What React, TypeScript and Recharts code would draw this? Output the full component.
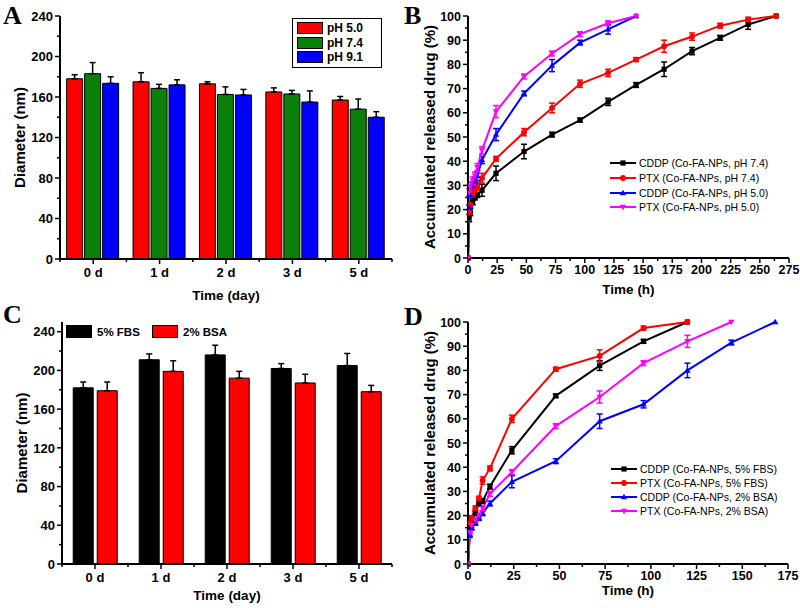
import React from 'react';
import { BarChart, Bar, LineChart, Line, XAxis, YAxis, ErrorBar, Legend } from 'recharts';

const FONT = '"Liberation Sans", Arial, sans-serif';
const SERIF = '"Liberation Serif", "Times New Roman", serif';

// ---- Panel A: diameter vs pH ----
const daysA = ['0 d', '1 d', '2 d', '3 d', '5 d'];
const ph50 = [178, 175, 173, 165, 157];
const ph50Err = [4, 9, 2, 4, 3.5];
const ph74 = [183, 168.5, 162.5, 163, 148];
const ph74Err = [11, 4, 7.5, 3.5, 10];
const ph91 = [173.5, 172, 162, 155, 140];
const ph91Err = [6.5, 5, 5.5, 11, 5.5];

// ---- Panel C: diameter in serum ----
const daysC = ['0 d', '1 d', '2 d', '3 d', '5 d'];
const fbs = [182, 211, 216, 202, 205];
const fbsErr = [6, 6, 10, 5, 12.5];
const bsa = [179, 199, 192, 187, 178];
const bsaErr = [9, 11, 7, 9, 6.5];

const diamTicks = [0, 20, 40, 60, 80, 100, 120, 140, 160, 180, 200, 220, 240];

// ---- Panel B: release at pH 7.4 / 5.0 ----
const tB74 = [0, 1, 2, 4, 6, 8, 12, 24, 48, 72, 96, 120, 144, 168, 192, 216, 240, 264];
const cddp74 = [0, 16.5, 19, 23, 25, 26, 28, 35, 44, 51, 57, 64.5, 71.5, 78, 85.5, 91, 96.5, 100];
const cddp74Err = [0, 1.5, 1.5, 1, 1, 1, 2.5, 3, 3, 1, 0.8, 1.5, 1, 3, 1.5, 1, 2, 0];
const ptx74 = [0, 19, 22, 26, 28, 29.5, 33, 41, 52, 62, 72, 76.5, 82, 87.5, 91.5, 96, 98.5, 100];
const ptx74Err = [0, 1, 1, 1, 1.5, 1.5, 2, 1, 1.5, 2, 1.5, 1.5, 0.8, 2.5, 1.5, 1, 1, 0];
const tB50 = [0, 1, 2, 4, 6, 8, 12, 24, 48, 72, 96, 120, 144];
const cddp50 = [0, 21, 26, 30, 32, 34, 40.5, 51, 68, 79.5, 89, 94.5, 100];
const cddp50Err = [0, 1, 1.5, 1.5, 1.5, 2, 1.5, 2.5, 1, 2.5, 1, 2, 0];
const ptx50 = [0, 27, 29.5, 32, 34, 37.5, 44.5, 60.5, 75, 84.5, 92.5, 97, 100];
const ptx50Err = [0, 1.5, 2, 1.5, 1.5, 1.5, 1.5, 2.5, 1, 1, 1, 1, 0];

// ---- Panel D: release in serum ----
const tD = [0, 1, 2, 4, 6, 8, 12, 24, 48, 72, 96, 120, 144, 168];
const cddpFbs = [0, 15, 18, 21, 25, 26, 32, 47, 69.5, 82, 92, 100];
const cddpFbsErr = [0, 1, 1, 1, 1, 1, 1, 1.5, 0.7, 2, 0.8, 0];
const ptxFbs = [0, 17, 19, 23, 27, 34.5, 39.5, 60, 80.5, 86, 97.5, 100];
const ptxFbsErr = [0, 1, 1, 1, 1, 1.5, 1, 1.5, 0.8, 2.5, 0.8, 0];
const cddpBsa = [0, 12, 15, 17, 19, 21, 25, 34, 42.5, 59, 66, 80, 91.5, 100];
const cddpBsaErr = [0, 1, 1, 1, 1, 1, 1, 2.5, 1, 3, 1.5, 3, 1, 0];
const ptxBsa = [0, 13, 16, 18, 20, 23, 29, 38, 57, 69, 83, 92, 100];
const ptxBsaErr = [0, 1, 1, 1, 1, 1, 1, 1, 1, 2.5, 1, 2.5, 0];

const hoursB = Array.from({ length: 23 }, (_, i) => i * 12.5);
const hoursD = Array.from({ length: 15 }, (_, i) => i * 12.5);
const pctTicks = Array.from({ length: 21 }, (_, i) => i * 5);

const toSeries = (ts: number[], vs: number[], es: number[]) =>
  vs.map((v, i) => ({ t: ts[i], v, e: es[i] }));

const dataA = daysA.map((day, i) => ({
  day,
  p50: ph50[i], p50E: [0, ph50Err[i]],
  p74: ph74[i], p74E: [0, ph74Err[i]],
  p91: ph91[i], p91E: [0, ph91Err[i]],
}));

const dataC = daysC.map((day, i) => ({
  day,
  fbs: fbs[i], fbsE: [0, fbsErr[i]],
  bsa: bsa[i], bsaE: [0, bsaErr[i]],
}));

type LineSeries = { name: string; color: string; shape: string; data: { t: number; v: number; e: number }[] };

const seriesB: LineSeries[] = [
  { name: 'CDDP (Co-FA-NPs, pH 7.4)', color: '#000000', shape: 'square', data: toSeries(tB74, cddp74, cddp74Err) },
  { name: 'PTX (Co-FA-NPs, pH 7.4)', color: '#FF0000', shape: 'circle', data: toSeries(tB74, ptx74, ptx74Err) },
  { name: 'CDDP (Co-FA-NPs, pH 5.0)', color: '#0000FF', shape: 'up', data: toSeries(tB50, cddp50, cddp50Err) },
  { name: 'PTX (Co-FA-NPs, pH 5.0)', color: '#FF00FF', shape: 'down', data: toSeries(tB50, ptx50, ptx50Err) },
];

const seriesD: LineSeries[] = [
  { name: 'CDDP (Co-FA-NPs, 5% FBS)', color: '#000000', shape: 'square', data: toSeries(tD, cddpFbs, cddpFbsErr) },
  { name: 'PTX (Co-FA-NPs, 5% FBS)', color: '#FF0000', shape: 'circle', data: toSeries(tD, ptxFbs, ptxFbsErr) },
  { name: 'CDDP (Co-FA-NPs, 2% BSA)', color: '#0000FF', shape: 'up', data: toSeries(tD, cddpBsa, cddpBsaErr) },
  { name: 'PTX (Co-FA-NPs, 2% BSA)', color: '#FF00FF', shape: 'down', data: toSeries(tD, ptxBsa, ptxBsaErr) },
];

const TS = 5; // tick size
const TM = 3; // tick margin

const marker = (shape: string, cx: number, cy: number, color: string, key?: any) => {
  const s = 2.6;
  if (shape === 'square') return <rect key={key} x={cx - s} y={cy - s} width={2 * s} height={2 * s} fill={color} />;
  if (shape === 'circle') return <circle key={key} cx={cx} cy={cy} r={s + 0.3} fill={color} />;
  const t = s + 0.6;
  const d = shape === 'up'
    ? `M${cx},${cy - t}L${cx + t},${cy + t * 0.7}L${cx - t},${cy + t * 0.7}Z`
    : `M${cx},${cy + t}L${cx + t},${cy - t * 0.7}L${cx - t},${cy - t * 0.7}Z`;
  return <path key={key} d={d} fill={color} />;
};

const dotFor = (shape: string, color: string) => (p: any) => {
  const { cx, cy, index } = p;
  if (cx == null || cy == null) return <g key={index} />;
  return marker(shape, cx, cy, color, index);
};

const leftTick = (isMajor: (v: number) => boolean, fontSize: number) => (props: any) => {
  const { x, y, payload } = props;
  const ax = x + TS + TM;
  const major = isMajor(payload.value);
  return (
    <g>
      <line x1={ax} x2={ax - (major ? 5 : 3)} y1={y} y2={y} stroke="#000" strokeWidth={1.5} />
      {major && (
        <text x={ax - 7} y={y} dy="0.36em" textAnchor="end" fontFamily={FONT} fontWeight="bold" fontSize={fontSize} fill="#000">
          {payload.value}
        </text>
      )}
    </g>
  );
};

const bottomNumTick = (isMajor: (v: number) => boolean, fontSize: number) => (props: any) => {
  const { x, y, payload } = props;
  const ay = y - TS - TM;
  const major = isMajor(payload.value);
  return (
    <g>
      <line x1={x} x2={x} y1={ay} y2={ay + (major ? 5 : 3)} stroke="#000" strokeWidth={1.5} />
      {major && (
        <text x={x} y={ay + 16} textAnchor="middle" fontFamily={FONT} fontWeight="bold" fontSize={fontSize} fill="#000">
          {payload.value}
        </text>
      )}
    </g>
  );
};

const catTick = (band: number, fontSize: number) => (props: any) => {
  const { x, y, payload, index } = props;
  const ay = y - TS - TM;
  return (
    <g>
      <line x1={x} x2={x} y1={ay} y2={ay + 5} stroke="#000" strokeWidth={1.5} />
      <line x1={x + band / 2} x2={x + band / 2} y1={ay} y2={ay + 3} stroke="#000" strokeWidth={1.5} />
      {index === 0 && <line x1={x - band / 2} x2={x - band / 2} y1={ay} y2={ay + 3} stroke="#000" strokeWidth={1.5} />}
      <text x={x} y={ay + 18} textAnchor="middle" fontFamily={FONT} fontWeight="bold" fontSize={fontSize} fill="#000">
        {payload.value}
      </text>
    </g>
  );
};

const VTitle = (props: any) => {
  const { viewBox, cx, text } = props;
  const cy = viewBox.y + viewBox.height / 2;
  return (
    <text x={cx} y={cy} transform={`rotate(-90 ${cx} ${cy})`} textAnchor="middle" dominantBaseline="central"
      fontFamily={FONT} fontWeight="bold" fontSize={15} fill="#000">
      {text}
    </text>
  );
};

const HTitle = (props: any) => {
  const { viewBox, cy, text } = props;
  const cx = viewBox.x + viewBox.width / 2;
  return (
    <text x={cx} y={cy} textAnchor="middle" dominantBaseline="central" fontFamily={FONT} fontWeight="bold" fontSize={13.5} fill="#000">
      {text}
    </text>
  );
};

const axisLine = { stroke: '#000', strokeWidth: 2 };

const BoxLegend = ({ items }: { items: { name: string; color: string }[] }) => (
  <div style={{ border: '1px solid #000', padding: '2px 4px', fontFamily: FONT, fontWeight: 'bold', fontSize: 12, width: 90, boxSizing: 'border-box' }}>
    {items.map((it) => (
      <div key={it.name} style={{ display: 'flex', alignItems: 'center', height: 14.5 }}>
        <span style={{ display: 'inline-block', width: 26, height: 12, background: it.color, border: '1px solid #000', boxSizing: 'border-box' }} />
        <span style={{ marginLeft: 4 }}>{it.name}</span>
      </div>
    ))}
  </div>
);

const RowLegend = ({ items }: { items: { name: string; color: string }[] }) => (
  <div style={{ display: 'flex', alignItems: 'center', fontFamily: FONT, fontWeight: 'bold', fontSize: 11.5 }}>
    {items.map((it) => (
      <div key={it.name} style={{ display: 'flex', alignItems: 'center', width: 86 }}>
        <span style={{ display: 'inline-block', width: 26, height: 13, background: it.color, border: '1px solid #000', boxSizing: 'border-box' }} />
        <span style={{ marginLeft: 5 }}>{it.name}</span>
      </div>
    ))}
  </div>
);

const LineLegend = ({ items, rowH }: { items: LineSeries[]; rowH: number }) => (
  <div style={{ fontFamily: FONT, fontSize: 10.5 }}>
    {items.map((it) => (
      <div key={it.name} style={{ display: 'flex', alignItems: 'center', height: rowH }}>
        <svg width={26} height={10}>
          <line x1={0} x2={26} y1={5} y2={5} stroke={it.color} strokeWidth={2} />
          {marker(it.shape, 13, 5, it.color)}
        </svg>
        <span style={{ marginLeft: 3, whiteSpace: 'nowrap' }}>{it.name}</span>
      </div>
    ))}
  </div>
);

const PanelLetter = ({ ch, left, top }: { ch: string; left: number; top: number }) => (
  <div style={{ position: 'absolute', left, top, fontFamily: SERIF, fontWeight: 'bold', fontSize: 26, lineHeight: '28px' }}>{ch}</div>
);

const ChartA = () => (
  <BarChart width={400} height={304} data={dataA} margin={{ top: 16, right: 8, bottom: 0, left: 0 }} barCategoryGap="10%" barGap={2}>
    <XAxis dataKey="day" height={45} axisLine={axisLine} tickLine={false} tickSize={TS} tickMargin={TM} interval={0}
      tick={catTick(332 / 5, 13)} label={<HTitle cy={295} text="Time (day)" />} />
    <XAxis xAxisId="top" dataKey="day" orientation="top" height={0} axisLine={axisLine} tick={false} tickLine={false} />
    <YAxis width={60} domain={[0, 240]} ticks={diamTicks} interval={0} axisLine={axisLine} tickLine={false} tickSize={TS} tickMargin={TM}
      tick={leftTick((v) => v % 40 === 0, 13)} label={<VTitle cx={19} text="Diameter (nm)" />} />
    <YAxis yAxisId="r" orientation="right" width={0} domain={[0, 240]} axisLine={axisLine} tick={false} tickLine={false} />
    <Legend verticalAlign="middle" align="center" layout="vertical" wrapperStyle={{ left: 292, top: 18, width: 100 }}
      content={() => <BoxLegend items={[{ name: 'pH 5.0', color: '#FF0000' }, { name: 'pH 7.4', color: '#0A800A' }, { name: 'pH 9.1', color: '#0000FF' }]} />} />
    <Bar dataKey="p50" name="pH 5.0" fill="#FF0000" stroke="#000" strokeWidth={1} isAnimationActive={false}>
      <ErrorBar dataKey="p50E" width={3} stroke="#000" strokeWidth={1.5} direction="y" />
    </Bar>
    <Bar dataKey="p74" name="pH 7.4" fill="#0A800A" stroke="#000" strokeWidth={1} isAnimationActive={false}>
      <ErrorBar dataKey="p74E" width={3} stroke="#000" strokeWidth={1.5} direction="y" />
    </Bar>
    <Bar dataKey="p91" name="pH 9.1" fill="#0000FF" stroke="#000" strokeWidth={1} isAnimationActive={false}>
      <ErrorBar dataKey="p91E" width={3} stroke="#000" strokeWidth={1.5} direction="y" />
    </Bar>
  </BarChart>
);

const ChartC = () => (
  <BarChart width={400} height={308} data={dataC} margin={{ top: 22, right: 8, bottom: 0, left: 0 }} barCategoryGap="17%" barGap={4}>
    <XAxis dataKey="day" height={44} axisLine={axisLine} tickLine={false} tickSize={TS} tickMargin={TM} interval={0}
      tick={catTick(330 / 5, 13)} label={<HTitle cy={295} text="Time (day)" />} />
    <XAxis xAxisId="top" dataKey="day" orientation="top" height={0} axisLine={axisLine} tick={false} tickLine={false} />
    <YAxis width={62} domain={[0, 250]} ticks={diamTicks} interval={0} axisLine={axisLine} tickLine={false} tickSize={TS} tickMargin={TM}
      tick={leftTick((v) => v % 40 === 0, 13)} label={<VTitle cx={21} text="Diameter (nm)" />} />
    <YAxis yAxisId="r" orientation="right" width={0} domain={[0, 250]} axisLine={axisLine} tick={false} tickLine={false} />
    <Legend verticalAlign="middle" align="center" layout="horizontal" wrapperStyle={{ left: 66, top: 25, width: 200 }}
      content={() => <RowLegend items={[{ name: '5% FBS', color: '#000000' }, { name: '2% BSA', color: '#FF0000' }]} />} />
    <Bar dataKey="fbs" name="5% FBS" fill="#000000" stroke="#000" strokeWidth={1} isAnimationActive={false}>
      <ErrorBar dataKey="fbsE" width={3} stroke="#000" strokeWidth={1.5} direction="y" />
    </Bar>
    <Bar dataKey="bsa" name="2% BSA" fill="#FF0000" stroke="#000" strokeWidth={1} isAnimationActive={false}>
      <ErrorBar dataKey="bsaE" width={3} stroke="#000" strokeWidth={1.5} direction="y" />
    </Bar>
  </BarChart>
);

const ReleaseChart = ({ series, xMax, xTicks, height, top, right, xAxisH, titleY, legendLeft, legendTop, rowH }: any) => (
  <LineChart width={400} height={height} margin={{ top, right, bottom: 0, left: 0 }}>
    <XAxis dataKey="t" type="number" domain={[0, xMax]} ticks={xTicks} interval={0} height={xAxisH} axisLine={axisLine}
      tickLine={false} tickSize={TS} tickMargin={TM} allowDataOverflow
      tick={bottomNumTick((v) => v % 25 === 0, 12.5)} label={<HTitle cy={titleY} text="Time (h)" />} />
    <XAxis xAxisId="top" dataKey="t" type="number" orientation="top" domain={[0, xMax]} height={0} axisLine={axisLine} tick={false} tickLine={false} />
    <YAxis width={68} type="number" domain={[0, 100]} ticks={pctTicks} interval={0} axisLine={axisLine} tickLine={false}
      tickSize={TS} tickMargin={TM} tick={leftTick((v) => v % 10 === 0, 12.5)}
      label={<VTitle cx={29} text="Accumulated released drug (%)" />} />
    <YAxis yAxisId="r" orientation="right" width={0} domain={[0, 100]} axisLine={axisLine} tick={false} tickLine={false} />
    <Legend verticalAlign="middle" align="center" layout="vertical" wrapperStyle={{ left: legendLeft, top: legendTop, width: 180 }}
      content={() => <LineLegend items={series} rowH={rowH} />} />
    {series.map((s: LineSeries) => (
      <Line key={s.name} data={s.data} dataKey="v" name={s.name} stroke={s.color} strokeWidth={2} type="linear"
        dot={dotFor(s.shape, s.color)} activeDot={false} isAnimationActive={false}>
        <ErrorBar dataKey="e" width={3} stroke={s.color} strokeWidth={1.5} direction="y" />
      </Line>
    ))}
  </LineChart>
);

export default function App() {
  return (
    <div style={{ position: 'absolute', left: 0, top: 0, width: 800, height: 608, background: '#fff', overflow: 'hidden' }}>
      <div style={{ position: 'absolute', left: 0, top: 0 }}><ChartA /></div>
      <div style={{ position: 'absolute', left: 400, top: 0 }}>
        <ReleaseChart series={seriesB} xMax={275} xTicks={hoursB} height={304} top={16} right={11} xAxisH={46}
          titleY={289} legendLeft={210} legendTop={156} rowH={14.7} />
      </div>
      <div style={{ position: 'absolute', left: 0, top: 300 }}><ChartC /></div>
      <div style={{ position: 'absolute', left: 400, top: 300 }}>
        <ReleaseChart series={seriesD} xMax={175} xTicks={hoursD} height={308} top={22} right={12} xAxisH={44}
          titleY={290} legendLeft={211} legendTop={162} rowH={14} />
      </div>
      <PanelLetter ch="A" left={3} top={2} />
      <PanelLetter ch="B" left={404} top={2} />
      <PanelLetter ch="C" left={3} top={301} />
      <PanelLetter ch="D" left={404} top={303} />
    </div>
  );
}
